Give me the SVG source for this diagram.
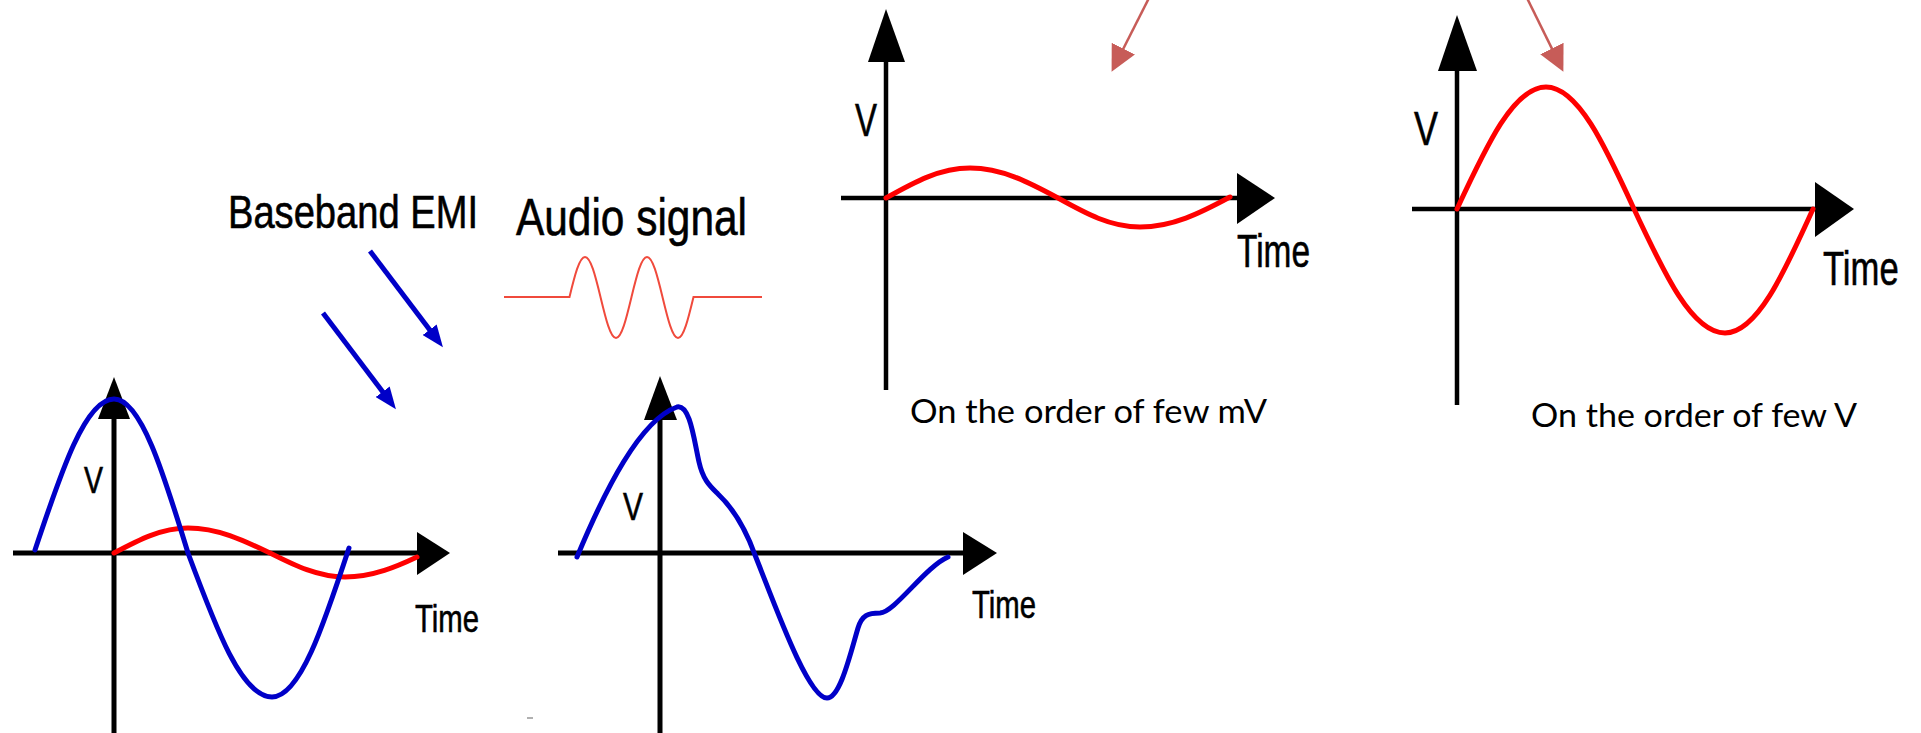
<svg xmlns="http://www.w3.org/2000/svg" width="1921" height="733" viewBox="0 0 1921 733">
<style>
.axis{stroke:#000;stroke-width:5;fill:none}
.axt{stroke:#000;stroke-width:4.5;fill:none}
.head{fill:#000}
.blue{stroke:#0000c8;stroke-width:5;fill:none;stroke-linecap:round;stroke-linejoin:round}
.red{stroke:#ff0000;stroke-width:5;fill:none;stroke-linecap:round}
.audio{stroke:#f04a3c;stroke-width:2;fill:none}
.lbl{font-family:"Liberation Sans",Arial,sans-serif;fill:#000;stroke:#000;stroke-width:0.6}
.cap{font-family:Lato,"Open Sans",sans-serif;fill:#000;font-size:32px}
.bconn{stroke:#0000c8;stroke-width:5;fill:none}
.rconn{stroke:#c75c58;stroke-width:2.5;fill:none}
</style>
<defs>
<marker id="mBlue" markerUnits="userSpaceOnUse" markerWidth="22" markerHeight="18" viewBox="0 0 20 16" refX="4" refY="8" orient="auto"><path d="M0,0 L20,8 L0,16 z" fill="#0000c8"/></marker>
<marker id="mRed" markerUnits="userSpaceOnUse" markerWidth="26" markerHeight="26" viewBox="0 0 25 25" refX="2" refY="12.5" orient="auto"><path d="M0,0 L25,12.5 L0,25 z" fill="#c75c58"/></marker>
</defs>
<rect width="1921" height="733" fill="#fff"/>

<g id="label-baseband">
<text class="lbl" x="228" y="228" font-size="46" textLength="250" lengthAdjust="spacingAndGlyphs">Baseband EMI</text>
</g>

<g id="audio-signal">
<text class="lbl" x="516" y="235" font-size="52" textLength="231" lengthAdjust="spacingAndGlyphs">Audio signal</text>
<path class="audio" d="M504,297 L569.5,297 C574.7,275.5 579.4,257 585,257 C590.6,257 595.3,275.5 600.5,297 C605.7,318.5 610.4,338 616,338 C621.6,338 626.3,318.5 631.5,297 C636.7,275.5 641.4,257 647,257 C652.6,257 657.3,275.5 662.5,297 C667.7,318.5 672.4,338 678,338 C683.6,338 688.3,318.5 693.5,297 L762,297"/>
</g>

<g id="chart-sum-left">
<line class="axis" x1="13" y1="553" x2="418" y2="553"/>
<polygon class="head" points="417,532 450,553 417,575"/>
<line class="axis" x1="114" y1="418" x2="114" y2="740"/>
<polygon class="head" points="98,419 114,377 130,419"/>
<path class="red" d="M114,553 C138.7,539.9 161.3,528 188,528 C217.6,528 242.6,539.9 270,553 C295.1,565.6 318,577 345,577 C373,577 398,566 417,557"/>
<path class="blue" d="M35,550 C61.4,470.7 85.5,399 114,399 C140.7,399 163.3,472.1 188,553 C216.1,628.6 241.7,697 272,697 C299.8,697 323.3,626.2 349,548"/>
<text class="lbl" x="84" y="493" font-size="36" textLength="19" lengthAdjust="spacingAndGlyphs">V</text>
<text class="lbl" x="415" y="632" font-size="39" textLength="64" lengthAdjust="spacingAndGlyphs">Time</text>
</g>

<g id="chart-distorted">
<line class="axis" x1="558" y1="553" x2="964" y2="553"/>
<polygon class="head" points="963,532 997,553 963,575"/>
<line class="axis" x1="660" y1="419" x2="660" y2="740"/>
<polygon class="head" points="644,420 660,376 677,420"/>
<path class="blue" d="M577,557 C605,490 640,420 677,407 C690,404 694,440 699,462 C703,480 710,486 718,494 C735,510 746,530 755,555 C775,605 808,698 827,698 C840,698 850,655 858,628 C862,615 868,613 880,613 C895,612 925,567 948,557"/>
<text class="lbl" x="623" y="520" font-size="39" textLength="20" lengthAdjust="spacingAndGlyphs">V</text>
<text class="lbl" x="972" y="618" font-size="39" textLength="64" lengthAdjust="spacingAndGlyphs">Time</text>
<line x1="527" y1="718" x2="533" y2="718" stroke="#b0b0b0" stroke-width="2"/>
</g>

<g id="chart-mv">
<line class="axt" x1="841" y1="198" x2="1238" y2="198"/>
<polygon class="head" points="1237,173 1275,198 1237,224"/>
<line class="axt" x1="886" y1="61" x2="886" y2="390"/>
<polygon class="head" points="868,62 886,9 905,62"/>
<path class="red" d="M886,198 C914.1,182.2 939.7,168 970,168 C1001.7,168 1028.6,182.2 1058,198 C1085.4,213.2 1110.4,227 1140,227 C1172.4,227 1199.9,213.2 1230,197"/>
<text class="lbl" x="855" y="136" font-size="47" textLength="22" lengthAdjust="spacingAndGlyphs">V</text>
<text class="lbl" x="1237" y="267" font-size="47" textLength="73" lengthAdjust="spacingAndGlyphs">Time</text>
<text class="cap" x="910" y="423" textLength="357" lengthAdjust="spacingAndGlyphs">On the order of few mV</text>
</g>

<g id="chart-v">
<line class="axt" x1="1412" y1="209" x2="1816" y2="209"/>
<polygon class="head" points="1815,182 1854,209 1815,237"/>
<line class="axt" x1="1457" y1="70" x2="1457" y2="405"/>
<polygon class="head" points="1438,71 1457,15 1477,71"/>
<path class="red" d="M1457,209 C1486.8,144.9 1513.9,87 1546,87 C1577.7,87 1604.6,144.9 1634,209 C1664.4,274.1 1692.2,333 1725,333 C1756.7,333 1783.6,274.1 1813,209"/>
<text class="lbl" x="1414" y="145" font-size="49" textLength="24" lengthAdjust="spacingAndGlyphs">V</text>
<text class="lbl" transform="translate(1823,285) scale(0.707,1)" x="0" y="0" font-size="49">Time</text>
<text class="cap" x="1531" y="427" textLength="326" lengthAdjust="spacingAndGlyphs">On the order of few V</text>
</g>

<g id="connectors">
<line class="bconn" x1="370" y1="251" x2="432.3" y2="333.2" marker-end="url(#mBlue)"/>
<line class="bconn" x1="323" y1="313" x2="385.3" y2="395.2" marker-end="url(#mBlue)"/>
<line class="rconn" x1="1152.7" y1="-9.3" x2="1122.4" y2="50.5" marker-end="url(#mRed)"/>
<line class="rconn" x1="1523.2" y1="-9.7" x2="1552.8" y2="50.4" marker-end="url(#mRed)"/>
</g>
</svg>
